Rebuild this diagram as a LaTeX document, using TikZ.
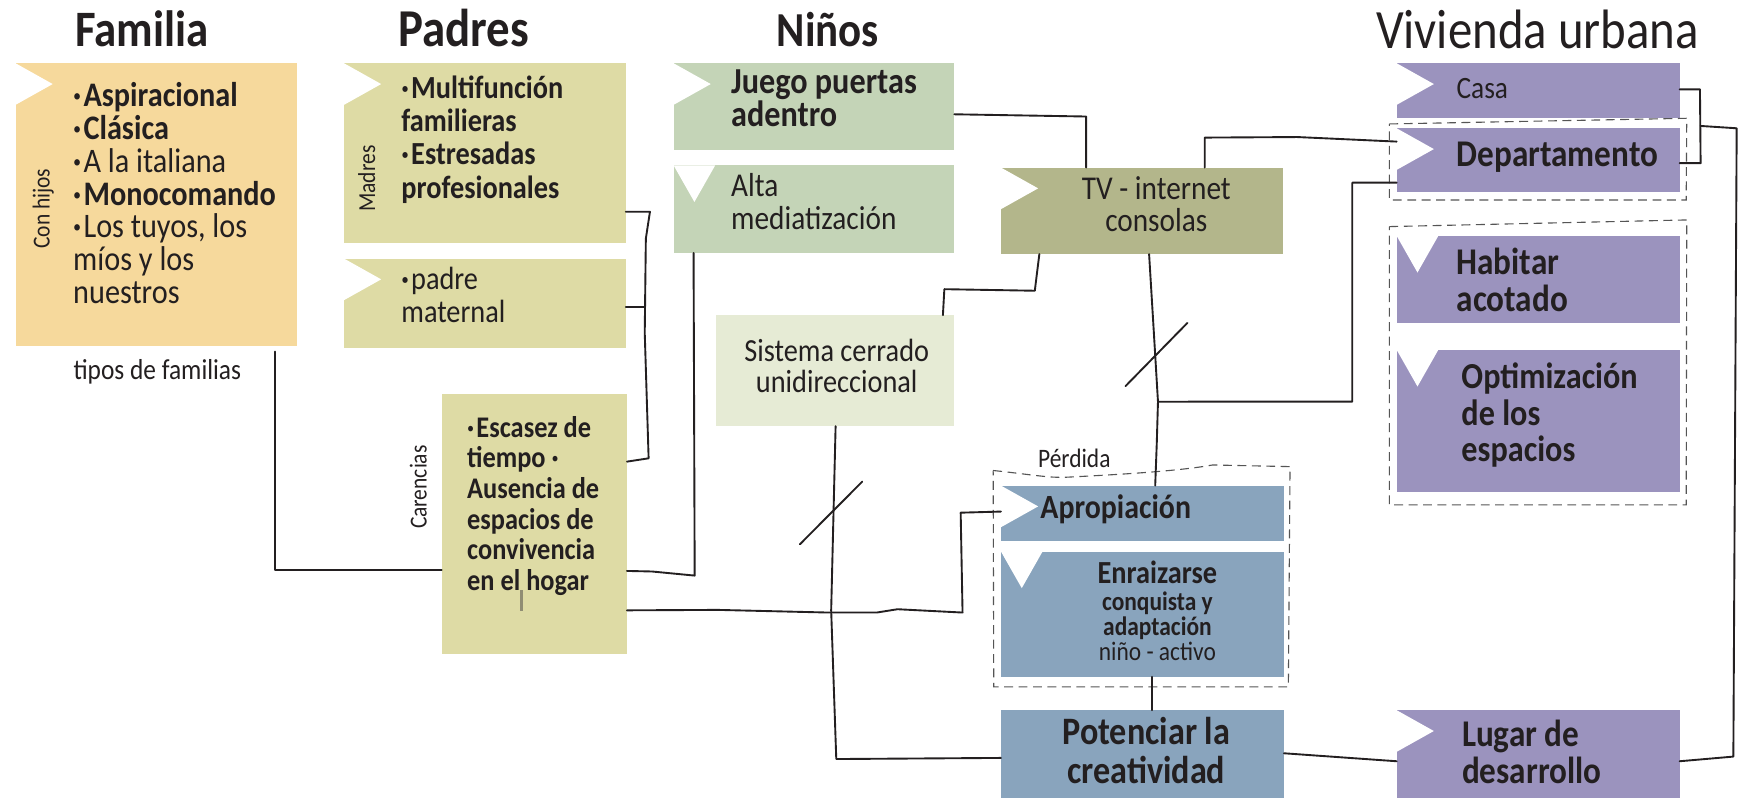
\documentclass[tikz,border=0pt]{standalone}
\usepackage{fontspec}
\setmainfont{Carlito}[FakeStretch=0.88]
\definecolor{ink}{HTML}{231F20}
\definecolor{cFam}{HTML}{F6D99C}
\definecolor{cPad}{HTML}{DEDBA5}
\definecolor{cNin}{HTML}{C4D4B7}
\definecolor{cTV}{HTML}{B3B68B}
\definecolor{cSis}{HTML}{E6EBD5}
\definecolor{cBlu}{HTML}{89A4BD}
\definecolor{cPur}{HTML}{9B93BE}
\definecolor{cDash}{HTML}{555555}
\newcommand\fs[2]{\fontsize{#1}{#2}\selectfont}
\newcommand\tstr{\rule{0pt}{1em}}
\newcommand\dotb{\textbf{·}\hspace{2pt}}
\tikzset{
  box/.style={anchor=north west, inner sep=0pt, outer sep=0pt, draw=none},
  txt/.style={anchor=north west, inner sep=0pt, outer sep=0pt, align=left, text=ink},
  ctxt/.style={anchor=north, inner sep=0pt, outer sep=0pt, align=center, text=ink},
  lbl/.style={inner sep=0pt, outer sep=0pt, text=ink},
  ttl/.style={anchor=base, inner sep=0pt, outer sep=0pt, text=ink},
  conn/.style={draw=ink, line width=1.7pt, line join=round, line cap=round},
  grp/.style={draw=cDash, line width=1pt, dash pattern=on 8pt off 5pt},
}
\newcommand\trR[1]{\fill[white] (#1.north west) -- ++(0,37.5) -- ++(33.5,-18.75) -- cycle;}
\newcommand\trD[1]{\fill[white] (#1.north west) -- ++(37.5,0) -- ++(-18.75,33) -- cycle;}
\begin{document}
\begin{tikzpicture}[x=1pt,y=-1pt]
\useasboundingbox (0,0) rectangle (1568,719);
\fill[white] (0,0) rectangle (1568,719);

% titles
\node[ttl, font=\fs{46}{46}\bfseries] (tfam) at (128,42) {Familia};
\node[ttl, font=\fs{48}{48}\bfseries] (tpad) at (418,42) {Padres};
\node[ttl, font=\fs{44}{44}\bfseries] (tnin) at (746,42) {Niños};
\node[ttl, font=\fs{50}{50}] (tviv) at (1385.5,43.5) {Vivienda urbana};

% Familia
\node[box, fill=cFam, minimum width=254pt, minimum height=255pt] (fam) at (14,57) {};
\trR{fam}
\node[txt, font=\fs{31}{29.6}] (famt) at (66,65) {\tstr\textbf{\dotb Aspiracional}\\\textbf{\dotb Clásica}\\\dotb A la italiana\\\textbf{\dotb Monocomando}\\\dotb Los tuyos, los\\míos y los\\nuestros};
\node[lbl, rotate=90, font=\fs{22}{22}] (conhijos) at (39,188) {Con hijos};
\node[lbl, anchor=base west, font=\fs{26}{26}] (tipos) at (66.3,342) {tipos de familias};

% Padres
\node[box, fill=cPad, minimum width=254pt, minimum height=162pt] (p1) at (310,57) {};
\trR{p1}
\node[txt, font=\fs{29}{30}\bfseries] (p1t) at (361.7,59.6) {\tstr\dotb Multifunción\\familieras\\\dotb Estresadas\\profesionales};
\node[lbl, rotate=90, font=\fs{22}{22}] (madres) at (330.5,161) {Madres};
\node[box, fill=cPad, minimum width=254pt, minimum height=81pt] (p2) at (310,233) {};
\trR{p2}
\node[txt, font=\fs{29}{30}] (p2t) at (361.7,232) {\tstr\dotb padre\\maternal};
\node[box, fill=cPad, minimum width=167pt, minimum height=234pt] (car) at (398,355) {};
\node[txt, font=\fs{27}{27.6}\bfseries] (cart) at (421,367) {\tstr\dotb Escasez de\\tiempo \textbf{·}\\Ausencia de\\espacios de\\convivencia\\en el hogar};
\node[lbl, rotate=90, font=\fs{22}{22}] (carenc) at (377,439) {Carencias};
\draw[line width=2pt, color=gray!80!olive] (470,532) -- (470,551);

% Niños
\node[box, fill=cNin, minimum width=253pt, minimum height=78pt] (juego) at (607,57) {};
\trR{juego}
\node[txt, font=\fs{33}{30}\bfseries] (juegot) at (658.9,51) {\tstr Juego puertas\\adentro};
\node[box, fill=cNin, minimum width=253pt, minimum height=79pt] (alta) at (607,149) {};
\trD{alta}
\node[txt, font=\fs{30}{30}] (altat) at (658.9,147) {\tstr Alta\\mediatización};
\node[box, fill=cTV, minimum width=254pt, minimum height=78pt] (tv) at (902,151) {};
\trR{tv}
\node[ctxt, font=\fs{30}{29}] (tvt) at (1042,150) {\tstr TV - internet\\consolas};
\node[box, fill=cSis, minimum width=214pt, minimum height=100pt] (sis) at (645.5,284) {};
\node[ctxt, font=\fs{29}{28.2}] (sist) at (754,296.8) {\tstr Sistema cerrado\\unidireccional};

% Apropiacion group
\node[box, fill=cBlu, minimum width=255pt, minimum height=50pt] (aprop) at (902,437.6) {};
\trR{aprop}
\node[txt, font=\fs{30.6}{30}\bfseries] (apropt) at (937.6,436.4) {\tstr Apropiación};
\node[box, fill=cBlu, minimum width=255pt, minimum height=113pt] (enr) at (902,497) {};
\trD{enr}
\node[ctxt, font=\fs{29}{29}\bfseries] (enrt) at (1043,496.6) {\tstr Enraizarse};
\node[ctxt, font=\fs{24}{22.8}] (enrs) at (1043,525.7) {\tstr\textbf{conquista y}\\\textbf{adaptación}\\niño - activo};
\node[box, fill=cBlu, minimum width=255pt, minimum height=79pt] (pot) at (902,640) {};
\node[ctxt, font=\fs{35}{34.5}\bfseries] (pott) at (1033,636.3) {\tstr Potenciar la\\creatividad};
\node[lbl, anchor=base west, font=\fs{24}{24}] (perd) at (935.5,421) {Pérdida};
\draw[grp] (895,424) .. controls (925,427) and (945,431) .. (962,430) .. controls (1000,428) and (1060,425) .. (1092.7,419) -- (1162.5,420.5) -- (1161,619) -- (895.5,619) -- cycle;

% Vivienda
\node[box, fill=cPur, minimum width=255pt, minimum height=49.6pt] (casa) at (1258.6,57) {};
\trR{casa}
\node[txt, font=\fs{28}{28}] (casat) at (1312.6,60.6) {\tstr Casa};
\node[box, fill=cPur, minimum width=255pt, minimum height=57pt] (depto) at (1258.6,115.6) {};
\trR{depto}
\node[txt, font=\fs{34}{34}\bfseries] (deptot) at (1312.6,116) {\tstr Departamento};
\draw[grp] (1252,111.7) -- (1520,106.6) -- (1519.5,180.2) -- (1252,180.2) -- cycle;
\node[box, fill=cPur, minimum width=255pt, minimum height=78.7pt] (hab) at (1258.6,212.6) {};
\trD{hab}
\node[txt, font=\fs{34}{33.1}\bfseries] (habt) at (1312.6,213.7) {\tstr Habitar\\acotado};
\node[box, fill=cPur, minimum width=255pt, minimum height=128.5pt] (opt) at (1258.6,315.3) {};
\trD{opt}
\node[txt, font=\fs{33}{33}\bfseries] (optt) at (1317,317) {\tstr Optimización\\de los\\espacios};
\draw[grp] (1252,204.2) -- (1520,198.2) -- (1519.5,455) -- (1252,455) -- cycle;
\node[box, fill=cPur, minimum width=255pt, minimum height=79pt] (lugar) at (1258.6,640) {};
\trR{lugar}
\node[txt, font=\fs{34}{33}\bfseries] (lugart) at (1317.5,638.8) {\tstr Lugar de\\desarrollo};

% connectors
\draw[conn, shorten <=4.8pt] (fam.south -| 248,0) -- (248,514) -- (car.west |- 0,514);
\draw[conn] (car.east |- 0,416) -- (584.5,413) -- (581,300) -- (582,215) -- (585.7,190.8) -- (p1.east |- 0,190.8);
\coordinate (brk) at (581.5,276.4);
\draw[conn] (p2.east |- 0,276.4) -- (brk);
\draw[conn] (alta.south -| 625,0) -- (626,518.7) -- (587.6,515) -- (car.east |- 0,514.5);
\draw[conn] (car.east |- 0,550) -- (646.7,549.6) -- (746.7,552) -- (790,552) -- (808.8,549) -- (867.4,552) -- (865.7,462) -- (aprop.west |- 0,461);
\draw[conn] (sis.south -| 753,0) -- (749,550) -- (753.6,684) -- (pot.west |- 0,683);
\draw[conn] (720.8,490.5) -- (777,434);
\draw[conn] (tv.south -| 936.6,0) -- (932.5,262) -- (851,260.6) -- (sis.north -| 849.7,0);
\draw[conn] (juego.east |- 0,103) -- (978.7,105) -- (tv.north -| 978.7,0);
\draw[conn] (depto.west |- 0,127.6) -- (1169,123.5) -- (1085.6,124) -- (tv.north -| 1085.6,0);
\coordinate (tvj) at (1043.5,362);
\draw[conn] (tv.south -| 1035.5,0) -- (1039.8,300) -- (tvj) -- (1042.4,400) -- (aprop.north -| 1041,0);
\draw[conn] (1014.2,348) -- (1070,291);
\draw[conn] (tvj) -- (1218.6,361.9) -- (1218.6,164.6) -- (depto.west |- 0,164.6);
\draw[conn] (enr.south -| 1038,0) -- (pot.north -| 1038,0);
\draw[conn] (pot.east |- 0,678.8) -- (lugar.west |- 0,686);
\coordinate (cb) at (1532.5,113.5);
\draw[conn] (casa.east |- 0,80.5) -- (1531.9,80.5) -- (1532.5,147) -- (depto.east |- 0,147);
\draw[conn] (cb) -- (1565,115.6) -- (1562,681.8) -- (lugar.east |- 0,686);
\end{tikzpicture}
\end{document}
